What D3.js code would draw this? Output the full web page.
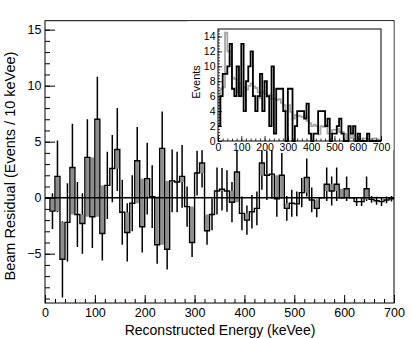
<!DOCTYPE html>
<html>
<head>
<meta charset="utf-8">
<script src="https://cdn.jsdelivr.net/npm/d3@7"></script>
<style>
  body { margin: 0; background: #fff; }
  svg { display: block; font-family: "Liberation Sans", Arial, sans-serif; }
</style>
</head>
<body>
<svg width="411" height="338"></svg>
<script>
// bins are 10 keVee wide, 0 - 700
var binEdges = d3.range(0, 710, 10);

// beam residual per bin (events / 10 keVee) and its error
var residual = [0, -1.2, 1.9, -5.5, -2.2, 2.7, -1.5, -2.3, 3.6, -1.7,
                7.0, -3.2, 1.1, 2.6, 4.3, -1.3, -3.1, -0.5, 3.3, -2.6,
                1.7, 0.1, -4.2, 4.4, -4.6, 1.5, 1.4, 1.9, -0.8, -4.0,
                2.2, 3.1, -2.95, -1.5, 0.6, 0.75, 0.6, -0.4, 2.3, -1.4,
                -2.0, -1.25, -0.95, 3.1, 2.0, 2.1, -0.1, 2.0, -0.95, -0.5,
                -0.55, 0.45, 1.8, -0.2, -0.95, 0, 1.2, 0.6, 1.2, 0,
                0.8, 0, -0.35, -0.35, 0.8, -0.15, -0.27, -0.35, -0.2, -0.1];
var residualErr = [0, 1.6, 3.2, 3.4, 3.5, 3.9, 2.9, 2.7, 3.4, 2.8,
                   3.8, 2.4, 3.0, 3.0, 3.7, 2.9, 2.6, 2.5, 3.0, 2.3,
                   3.2, 2.8, 1.7, 3.3, 1.8, 2.8, 2.7, 2.8, 1.8, 1.3,
                   2.0, 2.2, 1.25, 1.4, 2.1, 1.9, 1.85, 1.8, 2.3, 1.5,
                   1.3, 1.5, 1.5, 2.4, 2.2, 2.2, 1.6, 2.0, 1.1, 1.2,
                   1.1, 1.3, 1.7, 1.1, 0.8, 0, 1.5, 1.3, 1.5, 0,
                   1.1, 0, 0.4, 0.4, 1.1, 0.3, 0.35, 0.4, 0.3, 0.25];

// inset: beam-on events (black) and scaled beam-off (gray)
var beamOn = [2, 6, 9, 9, 10, 13, 7, 6, 10, 6,
              13, 4, 8, 10, 12, 6, 4, 6, 9, 4,
              8, 6, 2, 10, 1, 7, 7, 7, 4, 0,
              7, 7, 0, 2, 4, 4, 4, 3, 5, 1,
              0, 1, 1, 4, 4, 4, 2, 3, 0, 1,
              1, 2, 3, 1, 0, 0, 2, 1, 2, 0,
              1, 0, 0, 0, 1, 0, 0, 0, 0, 0];
var beamOff = [2, 7.0, 7.2, 14.5, 12.0, 10.3, 8.5, 8.3, 6.5, 7.7,
               6.0, 7.2, 6.9, 7.4, 7.7, 7.3, 7.1, 6.5, 5.7, 6.6,
               6.3, 5.9, 6.2, 5.6, 5.6, 5.5, 5.6, 5.1, 4.8, 4.0,
               4.8, 3.9, 3.0, 3.5, 3.4, 3.3, 3.2, 3.4, 2.7, 2.4,
               2.0, 2.2, 2.0, 0.9, 2.0, 1.9, 2.1, 1.0, 0.95, 1.5,
               1.5, 1.6, 1.2, 1.2, 0.95, 0, 0.8, 0.4, 0.8, 0,
               0.2, 0, 0.35, 0.35, 0.2, 0.15, 0.3, 0.35, 0.2, 0.1];

var mainXTicks = d3.range(0, 800, 100);
var mainYTicks = [-5, 0, 5, 10, 15];
var insetXTicks = d3.range(0, 800, 100);
var insetYTicks = d3.range(0, 16, 2);

var svg = d3.select("svg");
var font = "'Liberation Sans', Arial, sans-serif";

// ---------- main pad ----------
var x = d3.scaleLinear().domain([0, 700]).range([45, 394]);
var y = d3.scaleLinear().domain([-9.4, 15.8]).range([303, 20.7]);

var bins = residual.map(function(v, i) {
  return {x0: binEdges[i], x1: binEdges[i + 1], v: v, e: residualErr[i]};
});

// step path for a histogram
function stepPath(vals, xs, ys, edges) {
  var p = d3.path();
  p.moveTo(xs(edges[0]), ys(vals[0]));
  vals.forEach(function(v, i) {
    p.lineTo(xs(edges[i]), ys(v));
    p.lineTo(xs(edges[i + 1]), ys(v));
  });
  return p.toString();
}

var main = svg.append("g");

main.append("defs").append("clipPath").attr("id", "mainclip")
  .append("rect").attr("x", 45).attr("y", 20.7).attr("width", 349).attr("height", 282.3);

var plot = main.append("g").attr("clip-path", "url(#mainclip)");

// error bars
plot.selectAll("line.err")
  .data(bins.filter(function(d) { return d.e > 0; }))
  .enter()
  .append("line")
    .attr("class", "err")
    .attr("x1", function(d) { return x((d.x0 + d.x1) / 2); })
    .attr("x2", function(d) { return x((d.x0 + d.x1) / 2); })
    .attr("y1", function(d) { return y(d.v - d.e); })
    .attr("y2", function(d) { return y(d.v + d.e); })
    .attr("stroke", "#000")
    .attr("stroke-width", 1.5);

// gray core where both bin edges overlap (thick outline look)
plot.selectAll("rect.core")
  .data(bins.map(function(d, i) {
    var L = i > 0 ? bins[i - 1].v : 0;
    var R = i < bins.length - 1 ? bins[i + 1].v : 0;
    var lo, hi;
    if (d.v >= L && d.v >= R) { lo = Math.max(L, R); hi = d.v; }
    else if (d.v <= L && d.v <= R) { lo = d.v; hi = Math.min(L, R); }
    else { lo = hi = d.v; }
    return {x0: d.x0, x1: d.x1, lo: lo, hi: hi};
  }).filter(function(d) { return d.hi - d.lo > 0.05; }))
  .enter()
  .append("rect")
    .attr("class", "core")
    .attr("x", function(d) { return x(d.x0) + 0.8; })
    .attr("width", function(d) { return x(d.x1) - x(d.x0) - 1.6; })
    .attr("y", function(d) { return y(d.hi); })
    .attr("height", function(d) { return y(d.lo) - y(d.hi); })
    .attr("fill", "#8e8e8e");

// zero line
plot.append("line")
  .attr("x1", x(0)).attr("x2", x(700))
  .attr("y1", y(0)).attr("y2", y(0))
  .attr("stroke", "#000").attr("stroke-width", 1.5);

// histogram outline
plot.append("path")
  .attr("d", stepPath(residual, x, y, binEdges))
  .attr("fill", "none")
  .attr("stroke", "#000")
  .attr("stroke-width", 1.4);

// axes (ticks inside)
var xMinor = main.append("g").attr("transform", "translate(0,303)")
  .call(d3.axisBottom(x).tickValues(d3.range(0, 701, 20)).tickSize(-4).tickFormat(""));
var xMajor = main.append("g").attr("transform", "translate(0,303)")
  .call(d3.axisBottom(x).tickValues(mainXTicks).tickSize(-8).tickPadding(5));
var yMinor = main.append("g").attr("transform", "translate(45,0)")
  .call(d3.axisLeft(y).tickValues(d3.range(-9, 16, 1)).tickSize(-5).tickFormat(""));
var yMajor = main.append("g").attr("transform", "translate(45,0)")
  .call(d3.axisLeft(y).tickValues(mainYTicks).tickSize(-10).tickPadding(3.5));

[xMinor, xMajor, yMinor, yMajor].forEach(function(g) {
  g.select(".domain").remove();
  g.selectAll("line").attr("stroke", "#000");
  g.selectAll("text").attr("fill", "#000").style("font-family", font).style("font-size", "12.5px");
});
yMajor.selectAll("text").text(function(d) { return d < 0 ? "\u2212" + Math.abs(d) : d; });

// frame
main.append("rect")
  .attr("x", 45).attr("y", 20.7).attr("width", 349).attr("height", 282.3)
  .attr("fill", "none").attr("stroke", "#000").attr("stroke-width", 1);

// axis titles
main.append("text")
  .attr("x", 220).attr("y", 334.5)
  .attr("text-anchor", "middle")
  .style("font-family", font).style("font-size", "14px")
  .text("Reconstructed Energy (keVee)");

main.append("text")
  .attr("transform", "rotate(-90)")
  .attr("x", -166).attr("y", 15)
  .attr("text-anchor", "middle")
  .style("font-family", font).style("font-size", "14.5px")
  .text("Beam Residual (Events / 10 keVee)");

// ---------- inset pad ----------
var xi = d3.scaleLinear().domain([0, 700]).range([218, 381]);
var yi = d3.scaleLinear().domain([0, 15]).range([141, 29]);

var inset = svg.append("g");
inset.append("rect")
  .attr("x", 188).attr("y", 21.2).attr("width", 205.5).attr("height", 129)
  .attr("fill", "#fff");

inset.append("path")
  .attr("d", stepPath(beamOff, xi, yi, binEdges))
  .attr("fill", "none").attr("stroke", "#a8a8a8").attr("stroke-width", 1.8);

inset.append("path")
  .attr("d", stepPath(beamOn, xi, yi, binEdges))
  .attr("fill", "none").attr("stroke", "#000").attr("stroke-width", 1.8);

var ixMinor = inset.append("g").attr("transform", "translate(0,141)")
  .call(d3.axisBottom(xi).tickValues(d3.range(0, 701, 20)).tickSize(-2.5).tickFormat(""));
var ixMajor = inset.append("g").attr("transform", "translate(0,141)")
  .call(d3.axisBottom(xi).tickValues(insetXTicks).tickSize(-5).tickPadding(2.5));
var iyMinor = inset.append("g").attr("transform", "translate(218,0)")
  .call(d3.axisLeft(yi).tickValues(d3.range(0, 15.01, 0.4)).tickSize(-2).tickFormat(""));
var iyMajor = inset.append("g").attr("transform", "translate(218,0)")
  .call(d3.axisLeft(yi).tickValues(insetYTicks).tickSize(-4).tickPadding(2.5));

[ixMinor, ixMajor, iyMinor, iyMajor].forEach(function(g) {
  g.select(".domain").remove();
  g.selectAll("line").attr("stroke", "#000").attr("stroke-width", 0.8);
  g.selectAll("text").attr("fill", "#000").style("font-family", font).style("font-size", "10.5px");
});

inset.append("rect")
  .attr("x", 218).attr("y", 29).attr("width", 163).attr("height", 112)
  .attr("fill", "none").attr("stroke", "#000").attr("stroke-width", 1);

inset.append("text")
  .attr("transform", "rotate(-90)")
  .attr("x", -82).attr("y", 200)
  .attr("text-anchor", "middle")
  .style("font-family", font).style("font-size", "11px")
  .text("Events");
</script>
</body>
</html>
